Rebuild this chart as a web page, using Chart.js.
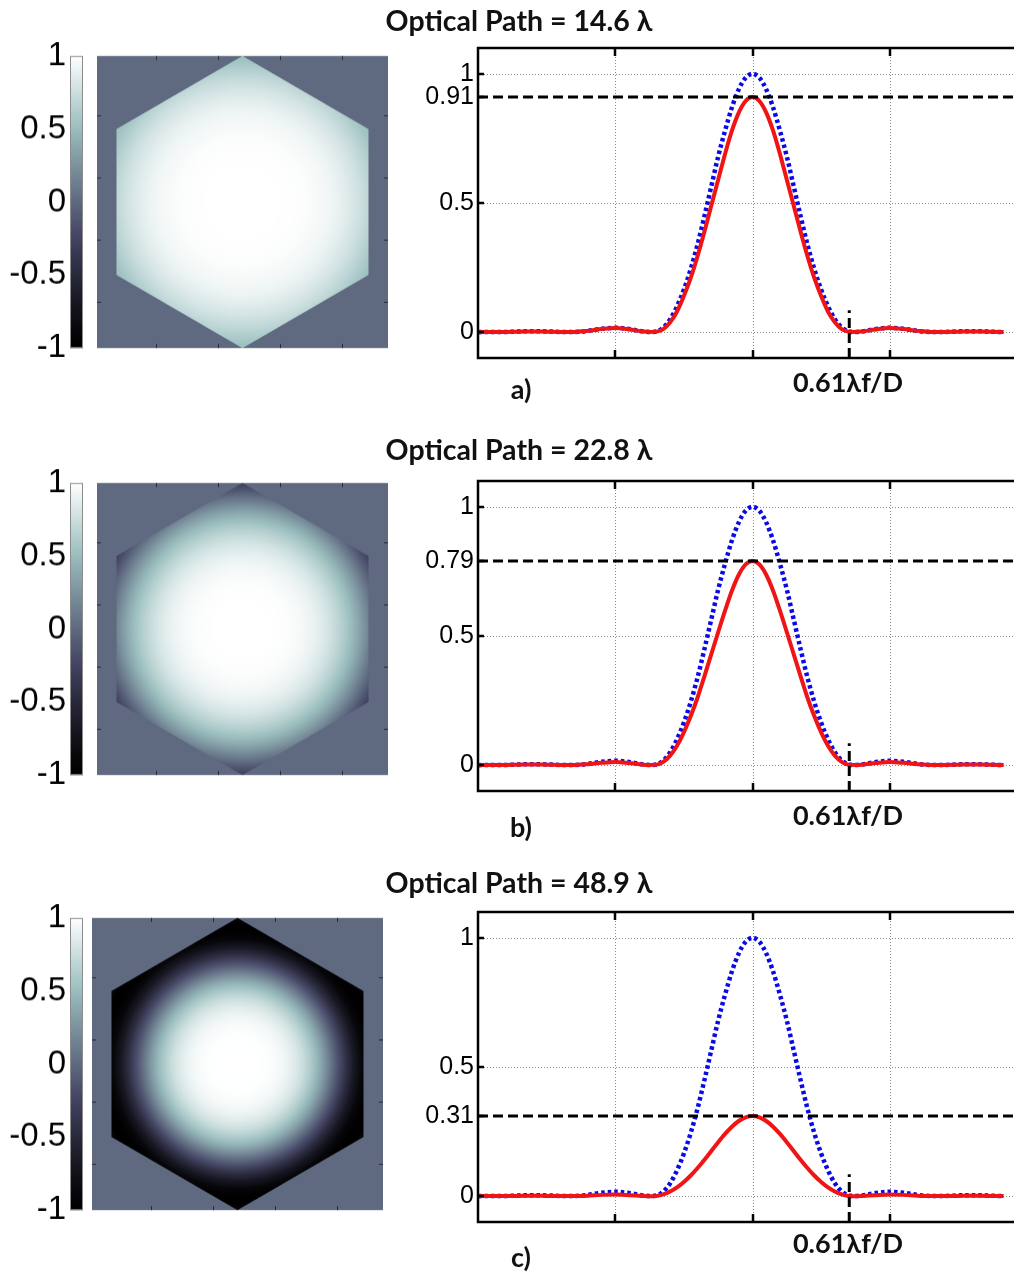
<!DOCTYPE html>
<html>
<head>
<meta charset="utf-8">
<title>Optical Path PSF</title>
<script src="https://cdn.jsdelivr.net/npm/chart.js"></script>
<style>
  html, body { margin: 0; padding: 0; background: #fff; overflow: hidden; }
  body { width: 1014px; height: 1272px; position: relative; }
  .box { position: absolute; }
  .txt { position: absolute; transform: translate(-50%, -50%); white-space: nowrap;
         font-family: Lato, "Noto Sans", sans-serif; font-weight: 700; color: #111; }
  .title { font-size: 28.5px; }
  .note { font-size: 27px; }
  .tag { font-size: 27px; }
</style>
</head>
<body>
<script>
  // ---- data ----
  const rowTitles = ['Optical Path = 14.6 λ', 'Optical Path = 22.8 λ', 'Optical Path = 48.9 λ'];
  const rowTags = ['a)', 'b)', 'c)'];
  const peakLevels = [0.91, 0.79, 0.31];
  const markerLabel = '0.61λf/D';
  const airyZeroX = 0.705;
  const markerTopY = 0.085;

  const psfX = [-2.0, -1.9, -1.8, -1.7, -1.6, -1.5, -1.4, -1.3, -1.2, -1.1, -1.0, -0.9,
    -0.8, -0.75, -0.7, -0.65, -0.6, -0.55, -0.5, -0.45, -0.4, -0.35, -0.3, -0.25, -0.2, -0.15, -0.1, -0.05,
    0, 0.05, 0.1, 0.15, 0.2, 0.25, 0.3, 0.35, 0.4, 0.45, 0.5, 0.55, 0.6, 0.65, 0.7, 0.75, 0.8,
    0.9, 1.0, 1.1, 1.2, 1.3, 1.4, 1.5, 1.6, 1.7, 1.8, 1.83];

  const idealPSF = [0, 0.001, 0.001, 0.003, 0.004, 0.003, 0.001, 0.001, 0.005, 0.013, 0.017, 0.012,
    0.003, 0.0005, 0.003, 0.018, 0.05, 0.10, 0.165, 0.245, 0.34, 0.45, 0.565, 0.68, 0.78, 0.87, 0.94, 0.985,
    1, 0.985, 0.94, 0.87, 0.78, 0.68, 0.565, 0.45, 0.34, 0.245, 0.165, 0.10, 0.05, 0.018, 0.003, 0.0005, 0.003,
    0.012, 0.017, 0.013, 0.005, 0.001, 0.001, 0.003, 0.004, 0.003, 0.001, 0.001];

  const measuredPSF_a = [0, 0.001, 0.001, 0.002, 0.003, 0.002, 0.001, 0.001, 0.005, 0.012, 0.016, 0.011,
    0.003, 0.0005, 0.002, 0.012, 0.038, 0.08, 0.14, 0.21, 0.295, 0.39, 0.49, 0.59, 0.69, 0.78, 0.85, 0.895,
    0.91, 0.895, 0.85, 0.78, 0.69, 0.59, 0.49, 0.39, 0.295, 0.21, 0.14, 0.08, 0.038, 0.012, 0.002, 0.0005, 0.003,
    0.011, 0.016, 0.012, 0.005, 0.001, 0.001, 0.002, 0.003, 0.002, 0.001, 0.001];

  const measuredPSF_b = [0, 0.001, 0.001, 0.002, 0.003, 0.002, 0.001, 0.001, 0.004, 0.009, 0.012, 0.008,
    0.002, 0.0005, 0.002, 0.013, 0.037, 0.075, 0.127, 0.19, 0.262, 0.345, 0.43, 0.515, 0.598, 0.675, 0.737, 0.777,
    0.79, 0.777, 0.737, 0.675, 0.598, 0.515, 0.43, 0.345, 0.262, 0.19, 0.127, 0.075, 0.037, 0.013, 0.002, 0.0005, 0.002,
    0.008, 0.012, 0.009, 0.004, 0.001, 0.001, 0.002, 0.003, 0.002, 0.001, 0.001];

  const measuredPSF_c = [0, 0.0005, 0.0005, 0.001, 0.0015, 0.001, 0.0005, 0.0005, 0.002, 0.005, 0.006, 0.004,
    0.001, 0, 0.001, 0.007, 0.018, 0.034, 0.055, 0.08, 0.109, 0.141, 0.175, 0.209, 0.241, 0.269, 0.291, 0.305,
    0.31, 0.305, 0.291, 0.269, 0.241, 0.209, 0.175, 0.141, 0.109, 0.08, 0.055, 0.034, 0.018, 0.007, 0.001, 0, 0.001,
    0.004, 0.006, 0.005, 0.002, 0.0005, 0.0005, 0.001, 0.0015, 0.001, 0.0005, 0.0005];

  const psfYTicks = [0, 0.5, 1];
  const psfXTicks = [-1, 0, 1];

  // pupil phase maps: value vs radius (fraction of the hexagon circumradius)
  const pupilRadii = [0, 0.05, 0.1, 0.15, 0.2, 0.25, 0.3, 0.35, 0.4, 0.45, 0.5,
    0.55, 0.6, 0.65, 0.7, 0.75, 0.8, 0.85, 0.9, 0.95, 1.0];
  const pupilMap_a = [1, 1, 1, 1, 0.999, 0.998, 0.996, 0.993, 0.987, 0.979, 0.966,
    0.95, 0.93, 0.9, 0.865, 0.82, 0.77, 0.71, 0.64, 0.57, 0.5];
  const pupilMap_b = [1, 1, 1, 0.999, 0.997, 0.993, 0.986, 0.974, 0.955, 0.928, 0.892,
    0.843, 0.78, 0.70, 0.605, 0.49, 0.36, 0.21, 0.048, -0.126, -0.30];
  const pupilMap_c = [1, 1, 0.999, 0.997, 0.99, 0.974, 0.947, 0.903, 0.836, 0.742, 0.615,
    0.456, 0.261, 0.037, -0.206, -0.454, -0.684, -0.869, -0.98, -0.991, -0.88];

  const colorbarTicks = [-1, -0.5, 0, 0.5, 1];
  const pupilTicks = [100, 200, 300, 400];
  const pupilMin = 5, pupilMax = 475, pupilCenter = 240, pupilRadius = 235;

  const measuredSets = [measuredPSF_a, measuredPSF_b, measuredPSF_c];
  const pupilSets = [pupilMap_a, pupilMap_b, pupilMap_c];

  // ---- layout ----
  const rows = [
    { plotTop: 48,  boxLeft: 97, boxTop: 56,  noteDy: 23, tagDy: 30, titleDy: -28 },
    { plotTop: 481, boxLeft: 97, boxTop: 483, noteDy: 23, tagDy: 35, titleDy: -32 },
    { plotTop: 912, boxLeft: 92, boxTop: 918, noteDy: 20, tagDy: 34, titleDy: -30 }
  ];
  const PLOT_LEFT = 478, PLOT_W = 549, PLOT_H = 310;
  const BOX_W = 291, BOX_H = 292;
  const CB_LEFT = 70, CB_W = 13, CB_LABEL_RIGHT = 66;
  const PAD = 26;

  // MATLAB "bone" colormap, slightly darkened
  const bone = (v) => {
    const t = Math.max(0, Math.min(1, (v + 1) / 2));
    const cl = (u) => Math.max(0, Math.min(1, u));
    const hr = cl(t / 0.375), hg = cl((t - 0.375) / 0.375), hb = cl((t - 0.75) / 0.25);
    const c = [(7 * t + hb) / 8, (7 * t + hg) / 8, (7 * t + hr) / 8].map(u => Math.round(255 * Math.pow(u, 1.2)));
    return `rgb(${c[0]},${c[1]},${c[2]})`;
  };

  const addCanvas = (left, top, w, h) => {
    const div = document.createElement('div');
    div.className = 'box';
    div.style.left = left + 'px';
    div.style.top = top + 'px';
    const cv = document.createElement('canvas');
    cv.width = w; cv.height = h;
    cv.style.width = w + 'px'; cv.style.height = h + 'px';
    div.appendChild(cv);
    document.body.appendChild(div);
    return cv;
  };

  // build once to measure the margins, then rebuild so the chart area lands on target
  const placeChart = (target, makeConfig) => {
    const w0 = target.width + 200, h0 = target.height + 120;
    let cv = addCanvas(0, 0, w0, h0);
    let ch = new Chart(cv, makeConfig());
    const ca = ch.chartArea;
    const mL = ca.left, mT = ca.top, mR = w0 - ca.right, mB = h0 - ca.bottom;
    ch.destroy();
    cv.parentNode.remove();
    cv = addCanvas(target.left - mL, target.top - mT, target.width + mL + mR, target.height + mT + mB);
    return new Chart(cv, makeConfig());
  };

  const addText = (cls, text, x, y) => {
    const d = document.createElement('div');
    d.className = 'txt ' + cls;
    d.textContent = text;
    d.style.left = x + 'px';
    d.style.top = y + 'px';
    document.body.appendChild(d);
  };

  rows.forEach((row, i) => {
    const peak = peakLevels[i];

    // ---- left: colorbar + hexagonal pupil ----
    const pupilPlugin = {
      id: 'pupil' + i,
      beforeDatasetsDraw(chart) {
        const { ctx, chartArea: a, scales: { x, y, cb } } = chart;
        ctx.save();
        ctx.fillStyle = bone(0);
        ctx.fillRect(a.left, a.top, a.right - a.left, a.bottom - a.top);

        const cx = x.getPixelForValue(pupilCenter), cy = y.getPixelForValue(pupilCenter);
        const R = Math.abs(y.getPixelForValue(pupilCenter + pupilRadius) - cy);
        ctx.beginPath();
        for (let k = 0; k < 6; k++) {
          const ang = Math.PI / 2 + k * Math.PI / 3;
          const px = x.getPixelForValue(pupilCenter + pupilRadius * Math.cos(ang));
          const py = y.getPixelForValue(pupilCenter + pupilRadius * Math.sin(ang));
          if (k) ctx.lineTo(px, py); else ctx.moveTo(px, py);
        }
        ctx.closePath();
        const g = ctx.createRadialGradient(cx, cy, 0, cx, cy, R);
        pupilSets[i].forEach((v, j) => g.addColorStop(pupilRadii[j], bone(v)));
        ctx.fillStyle = g;
        ctx.fill();

        // small inward ticks
        ctx.strokeStyle = '#2a2a2a';
        ctx.lineWidth = 1;
        ctx.beginPath();
        pupilTicks.forEach(v => {
          const px = Math.round(x.getPixelForValue(v)) + 0.5;
          const py = Math.round(y.getPixelForValue(v)) + 0.5;
          ctx.moveTo(px, a.top); ctx.lineTo(px, a.top + 4);
          ctx.moveTo(px, a.bottom); ctx.lineTo(px, a.bottom - 4);
          ctx.moveTo(a.left, py); ctx.lineTo(a.left + 4, py);
          ctx.moveTo(a.right, py); ctx.lineTo(a.right - 4, py);
        });
        ctx.stroke();

        // colorbar
        const yTop = cb.getPixelForValue(1), yBot = cb.getPixelForValue(-1);
        const cbX = a.left - (row.boxLeft - CB_LEFT);
        const lg = ctx.createLinearGradient(0, yBot, 0, yTop);
        for (let s = 0; s <= 40; s++) lg.addColorStop(s / 40, bone(-1 + s / 20));
        ctx.fillStyle = lg;
        ctx.fillRect(cbX, yTop, CB_W, yBot - yTop);
        ctx.strokeStyle = '#8c8c8c';
        ctx.strokeRect(cbX + 0.5, yTop + 0.5, CB_W - 1, yBot - yTop - 1);
        ctx.restore();
      }
    };

    placeChart({ left: row.boxLeft, top: row.boxTop, width: BOX_W, height: BOX_H }, () => ({
      type: 'scatter',
      data: { datasets: [] },
      options: {
        responsive: false, animation: false,
        layout: { padding: { top: PAD, bottom: PAD, left: 0, right: 12 } },
        plugins: { legend: { display: false }, tooltip: { enabled: false } },
        scales: {
          x: { type: 'linear', min: pupilMin, max: pupilMax, display: false },
          y: { type: 'linear', min: pupilMin, max: pupilMax, reverse: true, display: false },
          cb: {
            type: 'linear', position: 'left', min: -1, max: 1,
            grid: { display: false, drawTicks: false }, border: { display: false },
            ticks: { autoSkip: false, padding: row.boxLeft - CB_LABEL_RIGHT, color: '#000',
                     font: { family: '"Liberation Sans", Arial, sans-serif', size: 33 },
                     callback: v => String(v) },
            afterBuildTicks: s => { s.ticks = colorbarTicks.map(v => ({ value: v })); },
            afterFit: s => { s.width = row.boxLeft; }
          }
        }
      },
      plugins: [pupilPlugin]
    }));

    // ---- right: PSF cross-sections ----
    const framePlugin = {
      id: 'frame' + i,
      beforeDatasetsDraw(chart) {
        const { ctx, chartArea: a, scales: { x, y } } = chart;
        ctx.save();
        ctx.strokeStyle = '#8a8a8a';
        ctx.lineWidth = 1;
        ctx.setLineDash([1, 2]);
        ctx.beginPath();
        psfXTicks.forEach(v => {
          const px = Math.round(x.getPixelForValue(v)) + 0.5;
          ctx.moveTo(px, a.top); ctx.lineTo(px, a.bottom);
        });
        psfYTicks.forEach(v => {
          const py = Math.round(y.getPixelForValue(v)) + 0.5;
          ctx.moveTo(a.left, py); ctx.lineTo(a.right, py);
        });
        ctx.stroke();
        ctx.restore();
      },
      afterDatasetsDraw(chart) {
        const { ctx, chartArea: a, scales: { x, y } } = chart;
        ctx.save();
        ctx.strokeStyle = '#000';
        ctx.lineWidth = 2.5;
        ctx.beginPath();
        psfXTicks.forEach(v => {
          const px = Math.round(x.getPixelForValue(v));
          ctx.moveTo(px, a.bottom); ctx.lineTo(px, a.bottom - 8);
          ctx.moveTo(px, a.top); ctx.lineTo(px, a.top + 8);
        });
        [...psfYTicks, peak].forEach(v => {
          const py = Math.round(y.getPixelForValue(v));
          ctx.moveTo(a.left, py); ctx.lineTo(a.left + 6, py);
        });
        ctx.stroke();
        ctx.strokeRect(a.left, a.top, a.right - a.left, a.bottom - a.top);
        ctx.restore();
      }
    };

    const pts = (ys) => psfX.map((xv, k) => ({ x: xv, y: ys[k] }));
    placeChart({ left: PLOT_LEFT, top: row.plotTop, width: PLOT_W, height: PLOT_H }, () => ({
      type: 'scatter',
      data: {
        datasets: [
          { data: [{ x: -2, y: peak }, { x: 2, y: peak }], showLine: true, borderColor: '#000',
            borderWidth: 3, borderDash: [10, 5], pointRadius: 0 },
          { data: [{ x: airyZeroX, y: -0.1 }, { x: airyZeroX, y: markerTopY }], showLine: true,
            borderColor: '#000', borderWidth: 3, borderDash: [10, 5], pointRadius: 0 },
          { data: pts(measuredSets[i]), showLine: true, borderColor: '#f01414', borderWidth: 4,
            pointRadius: 0, cubicInterpolationMode: 'monotone' },
          { data: pts(idealPSF), showLine: true, borderColor: '#0a0ae6', borderWidth: 4.5,
            borderDash: [3.5, 3], pointRadius: 0, cubicInterpolationMode: 'monotone' }
        ]
      },
      options: {
        responsive: false, animation: false,
        layout: { padding: { top: PAD, bottom: PAD, left: 0, right: 12 } },
        plugins: { legend: { display: false }, tooltip: { enabled: false } },
        scales: {
          x: { type: 'linear', min: -2, max: 2, display: false },
          y: {
            type: 'linear', position: 'left', min: -0.1, max: 1.1,
            grid: { display: false, drawTicks: false }, border: { display: false },
            ticks: { autoSkip: false, padding: 4, color: '#000',
                     font: { family: '"Liberation Sans", Arial, sans-serif', size: 25 },
                     callback: v => String(v) },
            afterBuildTicks: s => { s.ticks = [...psfYTicks, peak].sort((p, q) => p - q).map(v => ({ value: v })); },
            afterFit: s => { s.width = 78; }
          }
        }
      },
      plugins: [framePlugin]
    }));

    addText('title', rowTitles[i], 519, row.plotTop + row.titleDy);
    addText('note', markerLabel, 848, row.plotTop + PLOT_H + row.noteDy);
    addText('tag', rowTags[i], 521, row.plotTop + PLOT_H + row.tagDy);
  });
</script>
</body>
</html>
